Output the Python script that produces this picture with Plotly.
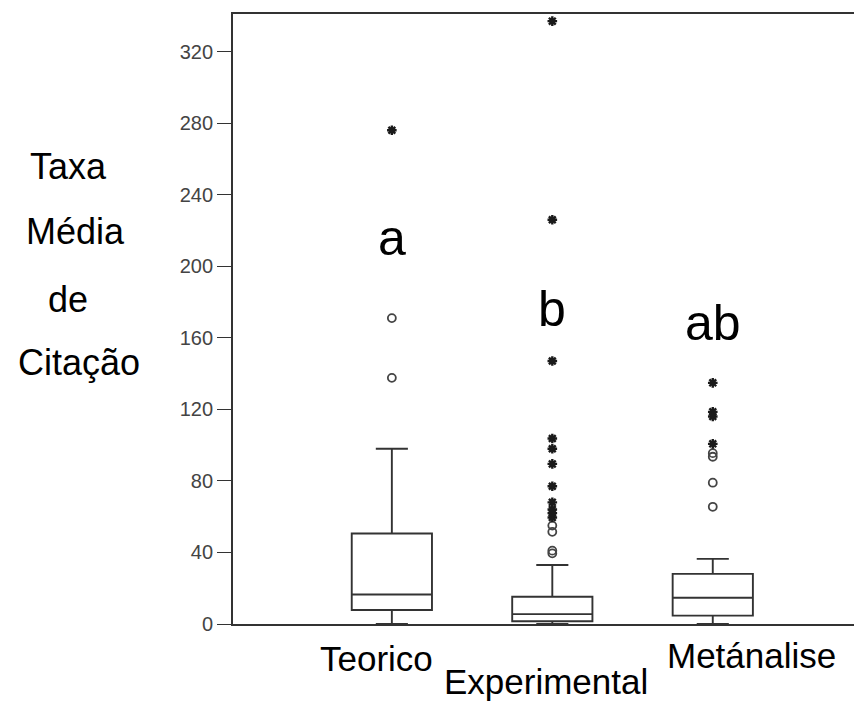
import plotly.graph_objects as go

categories = ["Teorico", "Experimental", "Metánalise"]
positions = [0, 1, 2]
q1 = [7.8, 1.5, 4.7]
median = [16.5, 5.5, 14.7]
q3 = [50.6, 15.2, 28.0]
lower_fence = [0, 0, 0]
upper_fence = [98, 33, 36.4]

# outliers (circles) and extreme values (stars)
out_circle_x = [0, 0, 1, 1, 1, 1, 2, 2, 2, 2]
out_circle_y = [171, 137.6, 39.5, 41, 51.5, 55, 93.5, 95.5, 79, 65.5]
out_star_x = [0, 1, 1, 1, 1, 1, 1, 1, 1, 1, 1, 1, 2, 2, 2, 2]
out_star_y = [276, 59.5, 62, 64, 68, 77, 89.5, 98, 103.7, 147, 226, 337,
              134.8, 118.6, 116, 100.7]

letters = ["a", "b", "ab"]
letter_y = [216, 176, 168]

ylabel_lines = ["Taxa", "Média", "de", "Citação"]

FONT = "Liberation Sans, Arial, sans-serif"
LINE = "#333333"

fig = go.Figure()
fig.add_trace(go.Box(
    x=positions, q1=q1, median=median, q3=q3,
    lowerfence=lower_fence, upperfence=upper_fence,
    width=0.5, whiskerwidth=0.4, boxpoints=False,
    fillcolor="white", line=dict(color=LINE, width=1.9),
    showlegend=False,
))
fig.add_trace(go.Scatter(
    x=out_circle_x, y=out_circle_y, mode="markers",
    marker=dict(symbol="circle-open", size=8, color="#444444",
                line=dict(width=1.8)),
    showlegend=False, cliponaxis=False,
))
fig.add_trace(go.Scatter(
    x=out_star_x, y=out_star_y, mode="markers",
    marker=dict(symbol="asterisk-open", size=8, color="#1a1a1a",
                line=dict(width=2.4)),
    showlegend=False, cliponaxis=False,
))

annotations = []
for xp, t, yy in zip(positions, letters, letter_y):
    annotations.append(dict(x=xp, y=yy, xref="x", yref="y", text=t,
                            showarrow=False, xanchor="center", yanchor="middle",
                            font=dict(family=FONT, size=50, color="black")))

# category labels (staggered)
cat_x = [-0.093, 0.96, 2.24]
cat_y = [-0.057, -0.095, -0.052]
for xp, t, yy in zip(cat_x, categories, cat_y):
    annotations.append(dict(x=xp, y=yy, xref="x", yref="paper", text=t,
                            showarrow=False, xanchor="center", yanchor="middle",
                            font=dict(family=FONT, size=35, color="black")))

# y-axis title lines
yl_x = [-0.262, -0.25, -0.262, -0.245]
yl_py = [166, 231, 299, 362]
for xp, t, py in zip(yl_x, ylabel_lines, yl_py):
    annotations.append(dict(x=xp, y=(624 - py) / 610, xref="paper", yref="paper",
                            text=t, showarrow=False, xanchor="center",
                            yanchor="middle",
                            font=dict(family=FONT, size=36, color="black")))

fig.update_layout(
    width=854, height=694,
    margin=dict(l=225, r=0, t=6, b=78),
    paper_bgcolor="white", plot_bgcolor="white",
    annotations=annotations,
    xaxis=dict(range=[-0.99, 2.93], showticklabels=False, ticks="",
               showgrid=False, zeroline=False, showline=True,
               linecolor=LINE, linewidth=1.8, mirror=True),
    yaxis=dict(range=[0, 341], tickvals=list(range(0, 321, 40)),
               ticks="outside", ticklen=14, tickcolor=LINE, tickwidth=1.4,
               tickfont=dict(family=FONT, size=20, color="#444444"),
               showgrid=False, zeroline=False, showline=True,
               linecolor=LINE, linewidth=1.8),
)

fig.write_html("out.html")
